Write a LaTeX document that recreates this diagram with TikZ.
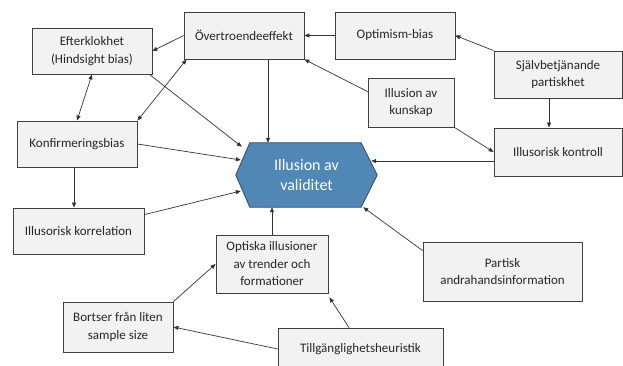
\documentclass[tikz,border=0pt]{standalone}
\usepackage{fontspec}
\setmainfont{Carlito}
\usetikzlibrary{arrows.meta,calc}
\definecolor{boxfill}{HTML}{F2F2F2}
\definecolor{boxline}{HTML}{404040}
\definecolor{hexfill}{HTML}{5087B5}
\definecolor{hexline}{HTML}{2A4A6A}
\tikzset{
  box/.style={draw=boxline, line width=0.8pt, fill=boxfill, align=center, inner sep=1pt,
    font=\fontsize{13}{17.5}\selectfont, text=black!85},
  arr/.style={draw=black!80, line width=0.7pt, -{Triangle[length=5pt,width=4pt]}},
  darr/.style={draw=black!80, line width=0.7pt, {Triangle[length=5pt,width=4pt]}-{Triangle[length=5pt,width=4pt]}},
}
\begin{document}
\begin{tikzpicture}[x=1pt,y=-1pt]
\useasboundingbox (0,0) rectangle (623,366);
\clip (0,0) rectangle (623,366);
% boxes
\node[box, minimum width=120, minimum height=47] (over) at (244,35.5) {Övertroendeeffekt};
\node[box, minimum width=120, minimum height=46] (efter) at (92,51) {Efterklokhet\\(Hindsight bias)};
\node[box, minimum width=120, minimum height=47] (optim) at (395,35.5) {Optimism-bias};
\node[box, minimum width=128, minimum height=47] (sjalv) at (558,74.5) {Självbetjänande\\partiskhet};
\node[box, minimum width=86, minimum height=49] (kunskap) at (411,102.5) {Illusion av\\kunskap};
\node[box, minimum width=128, minimum height=48] (kontroll) at (558,152) {Illusorisk kontroll};
\node[box, minimum width=120, minimum height=46] (konf) at (77,144) {Konfirmeringsbias};
\node[box, minimum width=131, minimum height=46] (korr) at (78.5,231) {Illusorisk korrelation};
\node[box, minimum width=112, minimum height=58] (optiska) at (272,264) {Optiska illusioner\\av trender och\\formationer};
\node[box, minimum width=110, minimum height=50] (bortser) at (118,327) {Bortser från liten\\sample size};
\node[box, minimum width=165, minimum height=42] (tillg) at (360.5,349) {Tillgänglighetsheuristik};
\node[box, minimum width=159, minimum height=59] (partisk) at (502.5,271.5) {Partisk\\andrahandsinformation};
% hexagon
\node[minimum width=141, minimum height=64, inner sep=0pt] (hex) at (306.5,175) {};
\draw[fill=hexfill, draw=hexline, line width=0.8pt]
  (hex.west) -- ($(hex.north west)+(14,0)$) -- ($(hex.north east)+(-16,0)$) -- (hex.east)
  -- ($(hex.south east)+(-16,0)$) -- ($(hex.south west)+(14,0)$) -- cycle;
\node[align=center, text=white, font=\fontsize{16}{20}\selectfont] (hextext) at (hex.center) {Illusion av\\validitet};
% helper coordinates
\coordinate (overdown) at ($(over.south)+(24,0)$);
\coordinate (sjalvdown) at ($(sjalv.south)+(-9,0)$);
\coordinate (konfdown) at ($(konf.south)+(-3,0)$);
% connectors
\draw[arr] (over.west) -- (efter.east);
\draw[darr] (efter.south) -- (konf.north);
\draw[darr] ($(over.south west)+(3,0)$) -- (konf.north east);
\draw[arr] ($(efter.south east)+(-3,0)$) -- ($(hex.north west)+(6,4)$);
\draw[arr] (overdown) -- (overdown |- hex.north);
\draw[arr] (optim.west) -- (over.east);
\draw[arr] (sjalv.north west) -- (optim.east);
\draw[arr] ($(kunskap.north west)+(0,14)$) -- (over.south east);
\draw[arr] (sjalvdown) -- (sjalvdown |- kontroll.north);
\draw[arr] (kunskap.south east) -- (kontroll.west);
\draw[arr] ($(kontroll.west)+(0,9)$) -- ($(hex.east)+(-6,-14)$);
\draw[arr] (konf.east) -- ($(hex.west)+(5,-15)$);
\draw[arr] (konfdown) -- (konfdown |- korr.north);
\draw[arr] ($(korr.north east)+(0,7)$) -- ($(hex.west)+(5,16)$);
\draw[arr] (optiska.north) -- (optiska.north |- hex.south);
\draw[arr] ($(partisk.north west)+(0,9)$) -- ($(hex.south east)+(-14,0)$);
\draw[arr] (bortser.north east) -- (optiska.west);
\draw[arr] (tillg.west) -- (bortser.east);
\draw[arr] ($(tillg.north)+(-11.5,0)$) -- ($(optiska.south east)+(1,4)$);
\end{tikzpicture}
\end{document}
